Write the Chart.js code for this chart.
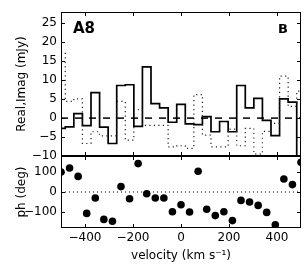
<!DOCTYPE html>
<html>
<head>
<meta charset="utf-8">
<script src="https://cdn.jsdelivr.net/npm/chart.js@4.4.1/dist/chart.umd.min.js"></script>
<style>
  html,body{margin:0;padding:0;background:#fff;}
  #wrap{position:relative;width:307px;height:277px;}
  canvas{position:absolute;left:0;top:0;}
</style>
</head>
<body>
<div id="wrap">
  <canvas id="c1" width="307" height="277"></canvas>
  <canvas id="c2" width="307" height="277"></canvas>
</div>
<script>
// ---- data ----
const velocities = [-500, -464.3, -428.6, -392.9, -357.1, -321.4, -285.7, -250, -214.3, -178.6,
  -142.9, -107.1, -71.4, -35.7, 0, 35.7, 71.4, 107.1, 142.9, 178.6,
  214.3, 250, 285.7, 321.4, 357.1, 392.9, 428.6, 464.3, 500];
const realValues = [-2.7, -2.3, 1.2, -2.0, 6.7, -2.4, -6.7, 8.6, 8.8, -2.2,
  13.5, 3.8, 2.7, -1.1, 3.6, -1.5, -1.7, 0.4, -3.6, -0.9,
  -3.6, 8.6, 2.7, 5.2, -0.6, -4.6, 5.1, 4.2, -15];
const imagValues = [17.3, 4.4, 5.1, -6.7, -3.6, -4.7, -4.7, 4.4, -5.8, 2.2,
  -1.9, -1.9, -1.9, -7.6, -7.3, -8.0, 6.2, -4.5, -7.6, -7.6,
  -2.9, -7.3, -2.7, -9.5, -3.5, -1.4, 11.1, 3.1, 7.1];
const phaseValues = [100, 120, 78, -107, -30, -137, -146, 27, -34, 142,
  -9, -30, -30, -99, -64, -100, 104, -86, -118, -99,
  -143, -42, -50, -67, -102, -164, 65, 37, 149];
const velocityTicks = [-400, -200, 0, 200, 400];
const ampTicks = [-10, -5, 0, 5, 10, 15, 20, 25];
const phaseTicks = [-100, 0, 100];
const xRange = [-500, 500];
const ampRange = [-10, 28];
const phaseRange = [-180, 180];

// ---- helpers ----
const FONT = 'DejaVu Sans';
const pts = (xs, ys) => xs.map((x, i) => ({x: x, y: ys[i]}));
const lineAtZero = xRange.map(x => ({x: x, y: 0}));
const fmt = v => String(v).replace('-', '\u2212');
const setTicks = arr => (s => { s.ticks = arr.map(v => ({value: v})); });

function framePlugin(xt, yt, extra) {
  return {
    id: 'frame',
    afterDatasetsDraw(chart) {
      const ctx = chart.ctx, a = chart.chartArea;
      const xs = chart.scales.x, ys = chart.scales.y;
      ctx.save();
      ctx.strokeStyle = '#000';
      ctx.lineWidth = 1;
      ctx.strokeRect(Math.round(a.left) + 0.5, Math.round(a.top) + 0.5,
        Math.round(a.right - a.left) - 1, Math.round(a.bottom - a.top) - 1);
      const L = 4;
      ctx.beginPath();
      xt.forEach(v => {
        const px = Math.round(xs.getPixelForValue(v)) + 0.5;
        ctx.moveTo(px, a.bottom); ctx.lineTo(px, a.bottom - L);
        ctx.moveTo(px, a.top); ctx.lineTo(px, a.top + L);
      });
      yt.forEach(v => {
        const py = Math.round(ys.getPixelForValue(v)) + 0.5;
        ctx.moveTo(a.left, py); ctx.lineTo(a.left + L, py);
        ctx.moveTo(a.right, py); ctx.lineTo(a.right - L, py);
      });
      ctx.stroke();
      if (extra) extra(ctx, a);
      ctx.restore();
    }
  };
}

const axisFont = {family: FONT, size: 12};

// ---- top panel: real / imag ----
new Chart(document.getElementById('c1'), {
  type: 'line',
  data: {
    datasets: [
      {data: lineAtZero, borderColor: '#000', borderWidth: 1.5, borderDash: [7, 7], pointRadius: 0},
      {data: pts(velocities, imagValues), stepped: 'middle', borderColor: '#222', borderWidth: 1.2,
        borderDash: [1.2, 3.3], pointRadius: 0, clip: 0},
      {data: pts(velocities, realValues), stepped: 'middle', borderColor: '#000', borderWidth: 1.7,
        pointRadius: 0, clip: 0}
    ]
  },
  options: {
    animation: false, responsive: false, devicePixelRatio: 1,
    layout: {padding: {left: 0, top: 12, right: 6, bottom: 121}},
    plugins: {legend: {display: false}, tooltip: {enabled: false}},
    scales: {
      x: {type: 'linear', min: xRange[0], max: xRange[1], display: false},
      y: {
        type: 'linear', min: ampRange[0], max: ampRange[1],
        afterBuildTicks: setTicks(ampTicks),
        afterFit: s => { s.width = 61; },
        grid: {display: false, drawTicks: false},
        border: {display: false},
        ticks: {font: axisFont, color: '#000', padding: 4, callback: v => fmt(v)},
        title: {display: true, text: 'Real,Imag (mJy)', font: axisFont, color: '#000', padding: {top: 15, bottom: 0}}
      }
    }
  },
  plugins: [framePlugin(velocityTicks, ampTicks, (ctx, a) => {
    ctx.fillStyle = '#000';
    ctx.textBaseline = 'alphabetic';
    ctx.font = 'bold 15px "DejaVu Sans"';
    ctx.textAlign = 'left';
    ctx.fillText('A8', a.left + 12, a.top + 21);
    ctx.font = 'bold 13px "DejaVu Sans"';
    ctx.textAlign = 'right';
    ctx.fillText('B', a.right - 13, a.top + 21);
  })]
});

// ---- bottom panel: phase ----
new Chart(document.getElementById('c2'), {
  type: 'scatter',
  data: {
    datasets: [
      {type: 'line', data: lineAtZero, borderColor: '#000', borderWidth: 1, borderDash: [1, 3], pointRadius: 0},
      {data: pts(velocities, phaseValues), backgroundColor: '#000', borderColor: '#000', borderWidth: 0,
        pointRadius: 3.8, clip: 0}
    ]
  },
  options: {
    animation: false, responsive: false, devicePixelRatio: 1,
    layout: {padding: {left: 0, top: 156, right: 6, bottom: 0}},
    plugins: {legend: {display: false}, tooltip: {enabled: false}},
    scales: {
      x: {
        type: 'linear', min: xRange[0], max: xRange[1],
        afterBuildTicks: setTicks(velocityTicks),
        afterFit: s => { s.height = 49; },
        grid: {display: false, drawTicks: false},
        border: {display: false},
        ticks: {font: axisFont, color: '#000', padding: 3, maxRotation: 0, callback: v => fmt(v)},
        title: {display: true, text: 'velocity (km s\u207B\u00B9)', font: axisFont, color: '#000', padding: {top: 0, bottom: 14}}
      },
      y: {
        type: 'linear', min: phaseRange[0], max: phaseRange[1],
        afterBuildTicks: setTicks(phaseTicks),
        afterFit: s => { s.width = 61; },
        grid: {display: false, drawTicks: false},
        border: {display: false},
        ticks: {font: axisFont, color: '#000', padding: 4, callback: v => fmt(v)},
        title: {display: true, text: 'ph (deg)', font: axisFont, color: '#000', padding: {top: 15, bottom: 0}}
      }
    }
  },
  plugins: [framePlugin(velocityTicks, phaseTicks)]
});
</script>
</body>
</html>
